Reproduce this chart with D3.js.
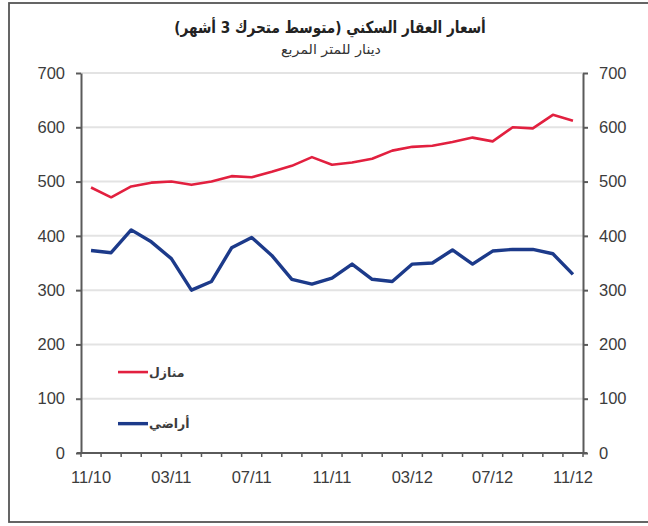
<!DOCTYPE html>
<html>
<head>
<meta charset="utf-8">
<script src="https://cdn.jsdelivr.net/npm/d3@7/dist/d3.min.js"></script>
<style>
  html, body { margin: 0; padding: 0; background: #fff; }
  svg { display: block; }
</style>
</head>
<body>
<svg id="chart" width="648" height="526"></svg>
<script>
// ---- data ----
const months = ["11/10","12/10","01/11","02/11","03/11","04/11","05/11","06/11","07/11","08/11","09/11","10/11",
                "11/11","12/11","01/12","02/12","03/12","04/12","05/12","06/12","07/12","08/12","09/12","10/12","11/12"];
const houses = [489, 471, 491, 498, 500, 494, 500, 510, 508, 518, 529, 545, 531, 535, 542, 557, 564, 566, 573, 581, 574, 600, 598, 623, 612];
const lands  = [373, 369, 411, 389, 358, 300, 316, 378, 397, 364, 320, 311, 322, 348, 320, 316, 348, 350, 374, 348, 372, 375, 375, 367, 329];
const yTicks = [0, 100, 200, 300, 400, 500, 600, 700];
const xLabels = ["11/10","03/11","07/11","11/11","03/12","07/12","11/12"];
const seriesNames = ["منازل", "أراضي"];
const titleText = "أسعار العقار السكني (متوسط متحرك 3 أشهر)";
const subtitleText = "دينار للمتر المربع";

(function () {
// ---- layout ----
const svg = d3.select("#chart");
const pLeft = 81, pRight = 583, pTop = 73, pBottom = 453;
const red = "#e2203f", blue = "#1c3a8a", axisCol = "#5a5a5a", textCol = "#3c3c3c";
const numFont = "'Liberation Sans', Arial, sans-serif";
const arFont = "'DejaVu Sans', sans-serif";

// outer frame
svg.append("rect").attr("x", 9).attr("y", 3).attr("width", 650).attr("height", 519)
  .attr("fill", "none").attr("stroke", "#555").attr("stroke-width", 1.8);

const x = d3.scaleBand().domain(months).range([pLeft, pRight]);
const y = d3.scaleLinear().domain([0, 700]).range([pBottom, pTop]);

// gridlines
svg.append("g").selectAll("line").data(yTicks.filter(d => d > 0)).join("line")
  .attr("x1", pLeft).attr("x2", pRight).attr("y1", d => y(d)).attr("y2", d => y(d))
  .attr("stroke", "#e3e3e3").attr("stroke-width", 2);

// left axis
const gL = svg.append("g").attr("transform", `translate(${pLeft},0)`)
  .call(d3.axisLeft(y).tickValues(yTicks).tickSize(5).tickPadding(11).tickSizeOuter(0));
// right axis
const gR = svg.append("g").attr("transform", `translate(${pRight},0)`)
  .call(d3.axisRight(y).tickValues(yTicks).tickSize(5).tickPadding(11).tickSizeOuter(0));
[gL, gR].forEach(g => {
  g.select(".domain").attr("stroke", axisCol).attr("stroke-width", 2);
  g.selectAll(".tick line").attr("stroke", axisCol).attr("stroke-width", 2);
  g.selectAll(".tick text").attr("fill", textCol).style("font-family", numFont).style("font-size", "16.5px");
});

// bottom axis: boundary ticks + labels
const gB = svg.append("g").attr("transform", `translate(0,${pBottom})`);
gB.append("line").attr("x1", pLeft - 4).attr("x2", pRight + 4).attr("y1", 0).attr("y2", 0)
  .attr("stroke", axisCol).attr("stroke-width", 2);
const bounds = months.map(m => x(m)).concat([x(months[months.length - 1]) + x.bandwidth()]);
gB.selectAll("line.tk").data(bounds).join("line").attr("class", "tk")
  .attr("x1", d => d).attr("x2", d => d).attr("y1", 0).attr("y2", 4)
  .attr("stroke", axisCol).attr("stroke-width", 1.5);
const gBL = svg.append("g").attr("transform", `translate(0,${pBottom})`)
  .call(d3.axisBottom(x).tickValues(xLabels).tickSize(0).tickPadding(18));
gBL.select(".domain").remove();
gBL.selectAll(".tick text").attr("fill", textCol).style("font-family", numFont).style("font-size", "16.5px");

// lines
const line = d3.line().x((d, i) => x(months[i]) + x.bandwidth() / 2).y(d => y(d));
svg.append("path").datum(houses).attr("d", line).attr("fill", "none")
  .attr("stroke", red).attr("stroke-width", 2.6).attr("stroke-linejoin", "round");
svg.append("path").datum(lands).attr("d", line).attr("fill", "none")
  .attr("stroke", blue).attr("stroke-width", 3.4).attr("stroke-linejoin", "round");

// legend
const legend = [{ name: seriesNames[0], color: red, w: 2.6, v: 150 }, { name: seriesNames[1], color: blue, w: 3.4, v: 55 }];
legend.forEach(l => {
  const ly = y(l.v) + 0.5;
  svg.append("line").attr("x1", 118).attr("x2", 148).attr("y1", ly).attr("y2", ly)
    .attr("stroke", l.color).attr("stroke-width", l.w);
  svg.append("text").attr("x", 149).attr("y", ly + 4.5).text(l.name)
    .attr("fill", textCol).style("font-family", arFont).style("font-size", "12.5px").style("font-weight", "bold");
});

// titles: keep font height, squeeze horizontally to the target width
function fitText(sel, cx, target) {
  const w = sel.node().getComputedTextLength();
  if (w > 0) {
    const k = target / w;
    sel.attr("transform", `translate(${cx},0) scale(${k},1) translate(${-cx},0)`);
  }
}
const t1 = svg.append("text").attr("x", 330).attr("y", 33).attr("text-anchor", "middle")
  .text(titleText).attr("fill", "#222").style("font-family", arFont).style("font-weight", "bold").style("font-size", "16.5px");
fitText(t1, 330, 312);
const t2 = svg.append("text").attr("x", 331).attr("y", 54).attr("text-anchor", "middle")
  .text(subtitleText).attr("fill", "#333").style("font-family", arFont).style("font-size", "13.5px");
fitText(t2, 331, 100);
})();
</script>
</body>
</html>
